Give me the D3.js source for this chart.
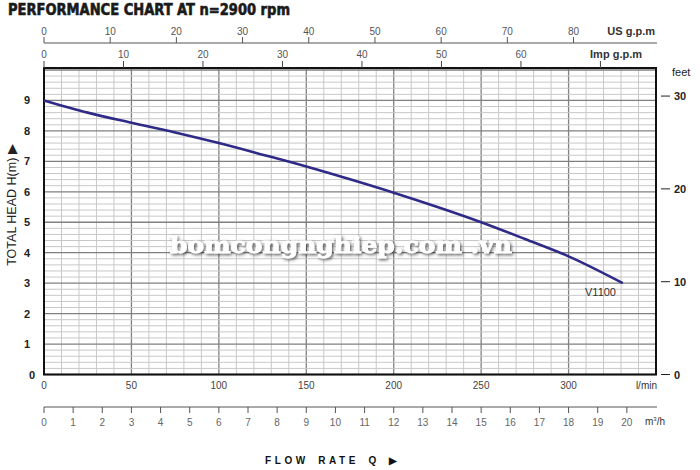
<!DOCTYPE html>
<html><head><meta charset="utf-8">
<script src="https://cdn.jsdelivr.net/npm/d3@7"></script>
<style>body{margin:0;background:#fff}svg{display:block}text{font-family:"Liberation Sans",Arial,sans-serif}</style>
</head><body>
<script>
// ---- data ----
const flowLmin = [0, 25, 50, 75, 100, 125, 150, 175, 200, 225, 250, 275, 300, 331];
const headM    = [9.0, 8.6, 8.27, 7.95, 7.6, 7.22, 6.83, 6.41, 5.97, 5.5, 5.0, 4.45, 3.88, 3.0];
const seriesName = "V1100";
const lminTicks = [0, 50, 100, 150, 200, 250, 300];
const m3hTicks = d3.range(0, 21, 1);
const usTicks = [0, 10, 20, 30, 40, 50, 60, 70, 80];
const impTicks = [0, 10, 20, 30, 40, 50, 60, 70];
const impLabels = [0, 10, 20, 30, 40, 50, 60];
const headTicks = [0, 1, 2, 3, 4, 5, 6, 7, 8, 9];
const feetTicks = [0, 10, 20, 30];
const titleText = "PERFORMANCE CHART AT n=2900 rpm";

const W = 700, H = 470;
const L = 44, R = 656, T = 68, B = 374.5;
const svg = d3.select("body").append("svg").attr("width", W).attr("height", H);

const x = d3.scaleLinear().domain([0, 350]).range([L, R]);
const y = d3.scaleLinear().domain([0, 10]).range([B, 70]);
const xM3 = d3.scaleLinear().domain([0, 350 * 60 / 1000]).range([L, R]);
const xUS = d3.scaleLinear().domain([0, 350 / 3.78541]).range([L, R]);
const xImp = d3.scaleLinear().domain([0, 350 / 4.54609]).range([L, R]);
const yFt = d3.scaleLinear().domain([0, 10 / 0.3048]).range([B, 70]);

// grid
const g = svg.append("g");
d3.range(0, 351, 10).forEach(v => {
  g.append("line").attr("x1", x(v)).attr("x2", x(v)).attr("y1", T).attr("y2", B)
    .attr("stroke", v % 50 === 0 ? "#808080" : "#c8c8c8").attr("stroke-width", v % 50 === 0 ? 1.3 : 1);
});
d3.range(0, 51, 1).forEach(i => {
  const v = i / 5;
  g.append("line").attr("x1", L).attr("x2", R).attr("y1", y(v)).attr("y2", y(v))
    .attr("stroke", i % 5 === 0 ? "#808080" : "#c8c8c8").attr("stroke-width", i % 5 === 0 ? 1.3 : 1);
});
svg.append("rect").attr("x", L).attr("y", T).attr("width", R - L).attr("height", B - T)
  .attr("fill", "none").attr("stroke", "#111").attr("stroke-width", 2);

// watermark
const defs = svg.append("defs");
const f = defs.append("filter").attr("id", "sh").attr("x", "-10%").attr("y", "-50%").attr("width", "120%").attr("height", "200%");
f.append("feDropShadow").attr("dx", 1.5).attr("dy", 1.5).attr("stdDeviation", 1.5).attr("flood-color", "#333").attr("flood-opacity", 0.8);
svg.append("text").attr("x", 170).attr("y", 253).attr("textLength", 342).attr("lengthAdjust", "spacingAndGlyphs")
  .style("font-family", "'DejaVu Serif',serif").style("font-weight", "bold").style("font-size", "22px")
  .attr("fill", "#fff").attr("stroke", "#fff").attr("stroke-width", 0.8).attr("filter", "url(#sh)").text("bomcongnghiep.com .vn");

// curve
const pts = flowLmin.map((q, i) => [q, headM[i]]);
svg.append("path").datum(pts)
  .attr("d", d3.line().x(d => x(d[0])).y(d => y(d[1])).curve(d3.curveMonotoneX))
  .attr("fill", "none").attr("stroke", "#2f2a88").attr("stroke-width", 2.6);
svg.append("text").attr("x", 585).attr("y", 296).attr("font-size", 11).attr("fill", "#333").text(seriesName);

// left axis labels
headTicks.forEach(v => {
  svg.append("text").attr("x", v === 0 ? 32 : 27).attr("y", y(v) + 4).attr("text-anchor", "middle")
    .attr("font-size", 11).attr("font-weight", "bold").attr("fill", "#222").text(v);
});
svg.append("text").attr("transform", "translate(16,205) rotate(-90)").attr("text-anchor", "middle")
  .attr("font-size", 12.5).attr("fill", "#222").text("TOTAL HEAD H(m) \u25B6");

// right feet axis
feetTicks.forEach(v => {
  svg.append("line").attr("x1", 661).attr("x2", 670).attr("y1", yFt(v)).attr("y2", yFt(v)).attr("stroke", "#222");
  svg.append("text").attr("x", 674).attr("y", yFt(v) + 4).attr("font-size", 11).attr("font-weight", "bold").attr("fill", "#222").text(v);
});
svg.append("text").attr("x", 672).attr("y", 76).attr("font-size", 11).attr("fill", "#222").text("feet");

// top US gpm axis
svg.append("line").attr("x1", L).attr("x2", 657).attr("y1", 43).attr("y2", 43).attr("stroke", "#555");
usTicks.forEach(v => {
  svg.append("line").attr("x1", xUS(v)).attr("x2", xUS(v)).attr("y1", 37).attr("y2", 43).attr("stroke", "#555");
  svg.append("text").attr("x", xUS(v)).attr("y", 35).attr("text-anchor", "middle").attr("font-size", 10).attr("fill", "#555").text(v);
});
svg.append("text").attr("x", 655).attr("y", 35).attr("text-anchor", "end").attr("font-size", 11).attr("font-weight", "bold").attr("fill", "#333").text("US g.p.m");

// Imp gpm ticks
impTicks.forEach(v => {
  svg.append("line").attr("x1", xImp(v)).attr("x2", xImp(v)).attr("y1", 61).attr("y2", 68).attr("stroke", "#444");
});
impLabels.forEach(v => {
  svg.append("text").attr("x", xImp(v)).attr("y", 58).attr("text-anchor", "middle").attr("font-size", 10).attr("fill", "#555").text(v);
});
svg.append("text").attr("x", 642).attr("y", 58).attr("text-anchor", "end").attr("font-size", 11).attr("font-weight", "bold").attr("fill", "#333").text("Imp g.p.m");

// l/min labels
lminTicks.forEach(v => {
  svg.append("text").attr("x", x(v)).attr("y", 389).attr("text-anchor", "middle").attr("font-size", 10).attr("fill", "#444").text(v);
});
svg.append("text").attr("x", 657).attr("y", 389).attr("text-anchor", "end").attr("font-size", 10).attr("fill", "#333").text("l/min");

// m3/h axis
svg.append("line").attr("x1", L).attr("x2", 657).attr("y1", 407).attr("y2", 407).attr("stroke", "#555");
m3hTicks.forEach(v => {
  svg.append("line").attr("x1", xM3(v)).attr("x2", xM3(v)).attr("y1", 407).attr("y2", 413).attr("stroke", "#555");
  svg.append("text").attr("x", xM3(v)).attr("y", 426).attr("text-anchor", "middle").attr("font-size", 10).attr("fill", "#666").text(v);
});
svg.append("text").attr("x", 645).attr("y", 425).attr("font-size", 10).attr("fill", "#333").html("m<tspan dy='-4' font-size='6'>3</tspan><tspan dy='4'>/h</tspan>");

// bottom label
svg.append("text").attr("x", 265).attr("y", 464).attr("font-size", 10).attr("font-weight", "bold").attr("fill", "#111")
  .attr("letter-spacing", 3.6).attr("word-spacing", 3).text("FLOW  RATE Q \u25B6");

// title
svg.append("text").attr("x", 8).attr("y", 15).attr("textLength", 282).attr("lengthAdjust", "spacingAndGlyphs")
  .style("font-family", "'Liberation Sans Narrow','DejaVu Sans Condensed',sans-serif").style("font-weight", "bold")
  .style("font-size", "16px").attr("fill", "#1a1a1a").attr("stroke", "#1a1a1a").attr("stroke-width", 0.6).text(titleText);
</script>
</body></html>
